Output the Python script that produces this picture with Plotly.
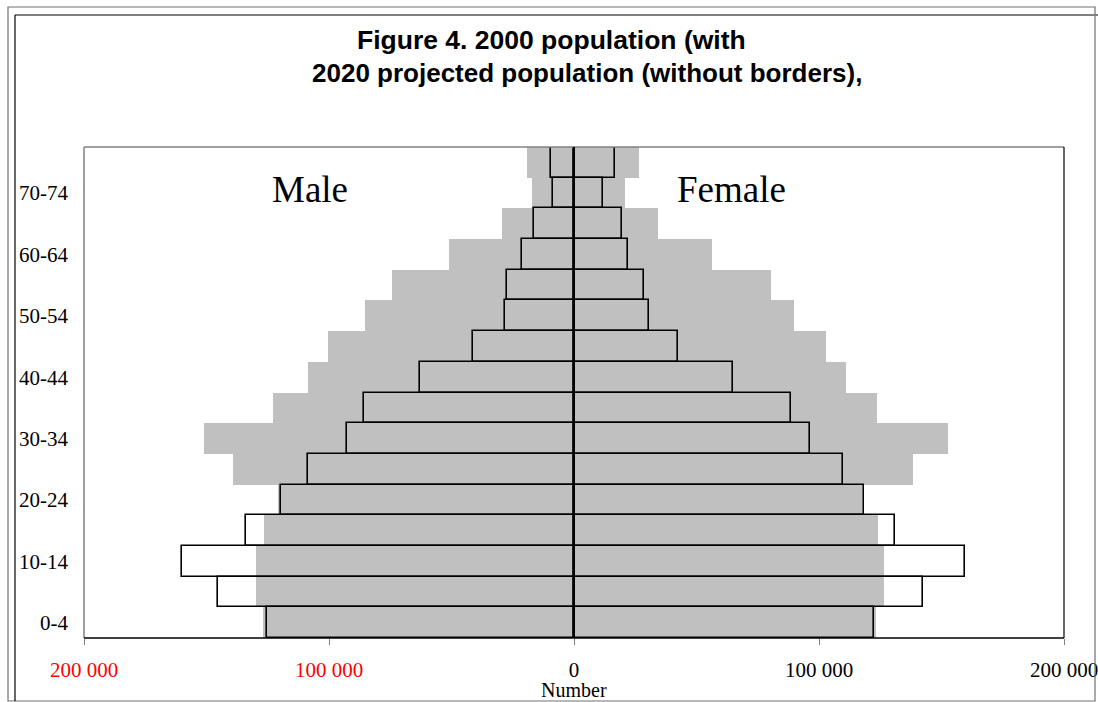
import plotly.graph_objects as go

# Age groups (bottom to top)
ages = ["0-4", "5-9", "10-14", "15-19", "20-24", "25-29", "30-34", "35-39",
        "40-44", "45-49", "50-54", "55-59", "60-64", "65-69", "70-74", "75-79"]
shown_ages = ["0-4", "10-14", "20-24", "30-34", "40-44", "50-54", "60-64", "70-74"]

# 2020 projected population (grey, without borders)
male_2020 = [126900, 129800, 129800, 126500, 121000, 139200, 151000, 122900,
             108600, 100400, 85300, 74300, 51000, 29400, 17100, 19200]
female_2020 = [123300, 126500, 126500, 124100, 117500, 138400, 152700, 123700,
               111000, 102900, 89800, 80400, 56300, 34300, 20800, 26500]

# 2000 population (outlined)
male_2000 = [125300, 145300, 160000, 133900, 119500, 108600, 92700, 85700,
             62900, 41200, 28200, 27300, 21200, 16300, 8600, 9400]
female_2000 = [122400, 142400, 159600, 131200, 118400, 109800, 96300, 88600,
               64900, 42400, 30600, 28600, 22000, 19600, 11800, 16700]

x_ticks = [-200000, -100000, 0, 100000, 200000]
x_ticktext = ['<span style="color:#ff0000">200 000</span>',
              '<span style="color:#ff0000">100 000</span>',
              "0", "100 000", "200 000"]

W, H = 1098, 702
L, R, T, B = 84, 34, 147, 64
PW, PH = W - L - R, H - T - B


def px(xp):
    return (xp - L) / PW


def py(yp):
    return (H - B - yp) / PH


fig = go.Figure()
fig.add_trace(go.Bar(y=ages, x=[-v for v in male_2020], orientation="h",
                     marker=dict(color="#c0c0c0", line=dict(width=0)),
                     name="Male 2020", showlegend=False))
fig.add_trace(go.Bar(y=ages, x=female_2020, orientation="h",
                     marker=dict(color="#c0c0c0", line=dict(width=0)),
                     name="Female 2020", showlegend=False))
fig.add_trace(go.Bar(y=ages, x=[-v for v in male_2000], orientation="h",
                     marker=dict(color="rgba(0,0,0,0)", line=dict(color="black", width=1.6)),
                     name="Male 2000", showlegend=False))
fig.add_trace(go.Bar(y=ages, x=female_2000, orientation="h",
                     marker=dict(color="rgba(0,0,0,0)", line=dict(color="black", width=1.6)),
                     name="Female 2000", showlegend=False))

serif = "Liberation Serif, Times New Roman, serif"

fig.update_layout(
    width=W, height=H, autosize=False,
    margin=dict(l=L, r=R, t=T, b=B, pad=0, autoexpand=False),
    barmode="overlay", bargap=0,
    paper_bgcolor="white", plot_bgcolor="white",
    font=dict(family=serif, size=21, color="black"),
    xaxis=dict(range=[-200000, 200000], tickvals=x_ticks, ticktext=x_ticktext,
               showgrid=False, zeroline=False, showline=False, automargin=False,
               ticks="outside", ticklen=6, tickcolor="#808080", tickwidth=1,
               ticklabelstandoff=7, ticklabeloverflow="allow",
               tickfont=dict(family=serif, size=21)),
    yaxis=dict(categoryorder="array", categoryarray=ages, automargin=False,
               tickvals=shown_ages, showgrid=False, zeroline=False,
               showline=False, ticks="", ticklabelstandoff=15,
               tickfont=dict(family=serif, size=21)),
)

shapes = []
# plot area borders
shapes.append(dict(type="line", xref="paper", yref="paper", x0=0, x1=1, y0=1, y1=1,
                   line=dict(color="#808080", width=1.5), layer="above"))
shapes.append(dict(type="line", xref="paper", yref="paper", x0=0, x1=0, y0=0, y1=1,
                   line=dict(color="#808080", width=1.5), layer="above"))
shapes.append(dict(type="line", xref="paper", yref="paper", x0=1, x1=1, y0=0, y1=1,
                   line=dict(color="black", width=1.2), layer="above"))
shapes.append(dict(type="line", xref="paper", yref="paper", x0=0, x1=1, y0=0, y1=0,
                   line=dict(color="black", width=1.5), layer="above"))
# zero line
shapes.append(dict(type="line", xref="x", yref="paper", x0=0, x1=0, y0=0, y1=1,
                   line=dict(color="black", width=2), layer="above"))
# outer frame
shapes.append(dict(type="rect", xref="paper", yref="paper",
                   x0=px(8), x1=px(1095), y0=py(701), y1=py(7),
                   line=dict(color="#707070", width=1.2)))
# inner frame lines
shapes.append(dict(type="line", xref="paper", yref="paper",
                   x0=px(15), x1=px(1098), y0=py(15), y1=py(15),
                   line=dict(color="#808080", width=2)))
shapes.append(dict(type="line", xref="paper", yref="paper",
                   x0=px(15), x1=px(15), y0=py(15), y1=py(701),
                   line=dict(color="black", width=1.2)))
fig.update_layout(shapes=shapes)

title_font = dict(family="Liberation Sans, Arial, sans-serif", size=26, color="black")
annotations = [
    dict(text="<b>Figure 4. 2000 population (with</b>", xref="paper", yref="paper",
         x=px(551), y=py(40), xanchor="center", yanchor="middle",
         showarrow=False, font=dict(family="Liberation Sans, Arial, sans-serif",
                                    size=26.5, color="black")),
    dict(text="<b>2020 projected population (without borders),</b>", xref="paper", yref="paper",
         x=px(587), y=py(73), xanchor="center", yanchor="middle",
         showarrow=False, font=title_font),
    dict(text="Male", xref="x", yref="paper", x=-107800, y=py(189),
         xanchor="center", yanchor="middle", showarrow=False,
         font=dict(family=serif, size=37, color="black")),
    dict(text="Female", xref="x", yref="paper", x=64100, y=py(189),
         xanchor="center", yanchor="middle", showarrow=False,
         font=dict(family=serif, size=37, color="black")),
    dict(text="Number", xref="x", yref="paper", x=0, y=py(690),
         xanchor="center", yanchor="middle", showarrow=False,
         font=dict(family=serif, size=20, color="black")),
]
fig.update_layout(annotations=annotations)

fig.write_html("out.html", config={"displayModeBar": False},
               post_script="document.body.style.margin='0';document.body.style.overflow='hidden';")
